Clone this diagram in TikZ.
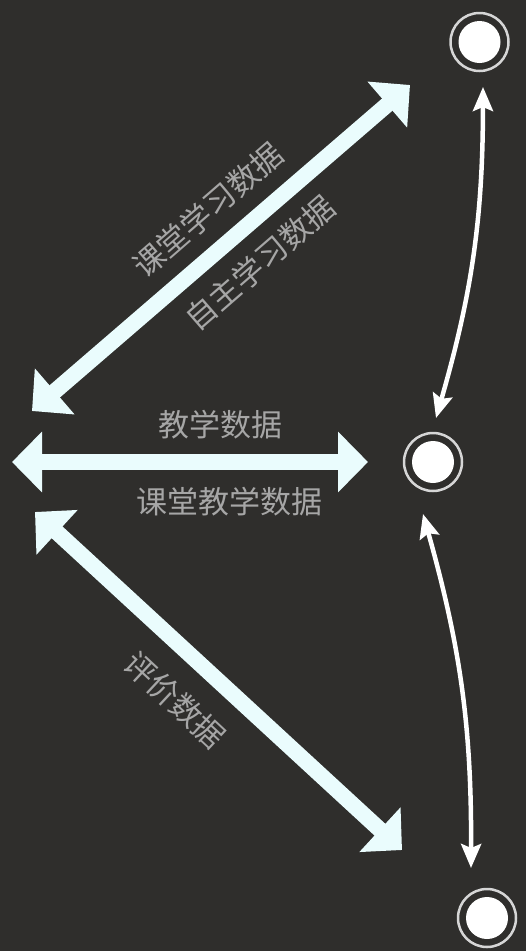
\documentclass[tikz,border=0pt]{standalone}
\usepackage{fontspec}
\newfontfamily\cjk{Noto Sans CJK SC}
\usetikzlibrary{arrows.meta}
\definecolor{bg}{HTML}{2F2E2C}
\definecolor{arrowc}{HTML}{EAFCFD}
\definecolor{txt}{HTML}{A6A6A6}
\definecolor{ringc}{HTML}{D6D6D6}
\begin{document}
\begin{tikzpicture}[x=1pt,y=-1pt,
  big/.style={line width=16pt, draw=arrowc,
    {Triangle[width=59pt,length=30pt]}-{Triangle[width=59pt,length=30pt]}},
  thinarrow/.style={line width=4.5pt, draw=white,
    {Stealth[width=20pt,length=24pt,inset=4pt]}-{Stealth[width=20pt,length=24pt,inset=4pt]}},
  lab/.style={text=txt, font=\cjk\fontsize{31}{31}\selectfont, inner sep=0pt},
  ringnode/.style={circle, draw=ringc, line width=2.5pt, minimum size=58pt, inner sep=0pt},
  dot/.style={circle, fill=white, minimum size=42pt, inner sep=0pt}]
\fill[bg] (0,0) rectangle (526,951);
\useasboundingbox (0,0) rectangle (526,951);

% circles
\node[ringnode] (c1) at (479.5,42) {};
\node[dot] (d1) at (c1.center) {};
\node[ringnode] (c2) at (433,462) {};
\node[dot] (d2) at (c2.center) {};
\node[ringnode] (c3) at (487,918) {};
\node[dot] (d3) at (c3.center) {};

% free ends of the thick arrows
\coordinate (a1s) at (410,85);
\coordinate (a1e) at (32,411);
\coordinate (a2s) at (12,462);
\coordinate (a2e) at (368,462);
\coordinate (a3s) at (35,512);
\coordinate (a3e) at (402,850);

\draw[big] (a1s) -- (a1e);
\draw[big] (a2s) -- (a2e);
\draw[big] (a3s) -- (a3e);

% thin arrows between circles
\coordinate (t1s) at (483,87);
\coordinate (t1e) at (436,418);
\coordinate (t2s) at (423,514);
\coordinate (t2e) at (471,868);
\draw[thinarrow] (t1s) to[bend left=8] (t1e);
\draw[thinarrow] (t2s) to[bend left=8] (t2e);

% labels
\node[lab] (l1) at (220,425) {教学数据};
\node[lab] (l2) at (229,502) {课堂教学数据};
\node[lab, rotate=41] (l3) at (208,210) {课堂学习数据};
\node[lab, rotate=41] (l4) at (260,263) {自主学习数据};
\node[lab, rotate=-43] (l5) at (175,700) {评价数据};
\end{tikzpicture}
\end{document}
